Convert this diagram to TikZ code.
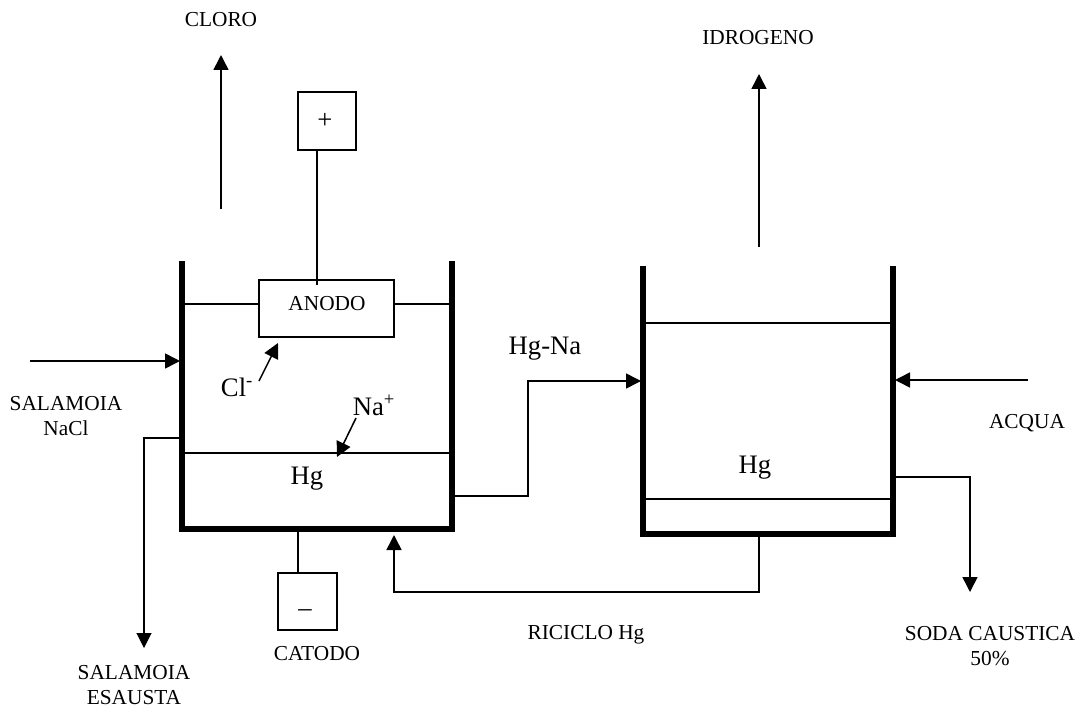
\documentclass[tikz,border=0pt]{standalone}
\usepackage{fontspec}
\setmainfont{Liberation Serif}
\usetikzlibrary{arrows.meta}
\tikzset{
  thinline/.style={line width=1.15pt,black},
  fineline/.style={line width=0.8pt,black},
  wall/.style={line width=3.8pt,black,line join=miter},
  flow/.style={thinline,-{Triangle[length=11.25pt,width=11.25pt]}},
  fineflow/.style={fineline,-{Triangle[length=11.25pt,width=11.25pt]}},
  lab/.style={font=\fontsize{16}{18.75}\selectfont,align=center,inner sep=0pt},
  big/.style={font=\fontsize{20}{22}\selectfont,inner sep=0pt},
  box/.style={draw,thinline,fill=white,inner sep=0pt,font=\fontsize{16}{18}\selectfont}
}
\begin{document}
\begin{tikzpicture}[x=0.75pt,y=-0.75pt]
\useasboundingbox (0,0) rectangle (1081,710);
% cell 1
\coordinate (w1a) at (182,261);
\coordinate (w1b) at (182,529);
\coordinate (w1c) at (452,529);
\coordinate (w1d) at (452,261);
\draw[wall] (w1a) -- (w1b) -- (w1c) -- (w1d);
\node[box,minimum width=101pt,minimum height=43pt] (anodo) at (326.5,308.5) {};
\node[lab] (anodot) at (327,304) {ANODO};
\draw[thinline] (184,304) -- (anodo.west |- 184,304);
\draw[thinline] (anodo.east |- 452,304) -- (450,304);
\draw[thinline] (184,453) -- (450,453);
% cell 2
\coordinate (w2a) at (643,266);
\coordinate (w2b) at (643,534);
\coordinate (w2c) at (893,534);
\coordinate (w2d) at (893,266);
\draw[wall] (w2a) -- (w2b) -- (w2c) -- (w2d);
\draw[thinline] (645,323) -- (891,323);
\draw[thinline] (645,499) -- (720,499);
\draw[fineline] (720,499) -- (798,499);
\draw[thinline] (798,499) -- (891,499);
% power boxes
\node[box,minimum width=43.5pt,minimum height=43.5pt] (plus) at (327,121) {};
\node[big] (plust) at (325,121) {+};
\node[box,minimum width=44pt,minimum height=43pt] (minus) at (307.5,601.5) {};
\node[big] (minust) at (305,613) {--};
\coordinate (anodotop) at (317,285);
\coordinate (catbot) at (298,532);
\draw[thinline] (317,150) -- (anodotop);
\draw[thinline] (catbot) -- (catbot |- minus.north);
% vertical product arrows
\coordinate (c1) at (221,209); \coordinate (c2) at (221,55);
\draw[flow] (c1) -- (c2);
\coordinate (i1) at (759,247); \coordinate (i2) at (759,74);
\draw[flow] (i1) -- (i2);
% feeds and outlets
\coordinate (f1) at (30,361); \coordinate (f2) at (180,361);
\draw[flow] (f1) -- (f2);
\coordinate (a1) at (1028,380); \coordinate (a2) at (895,380);
\draw[flow] (a1) -- (a2);
\coordinate (s1) at (180,438); \coordinate (s2) at (144,648);
\draw[fineflow] (s1) -| (s2);
\coordinate (h1) at (455,496); \coordinate (h2) at (641,381);
\draw[thinline] (h1) -- (528,496);
\draw[fineline] (528,496.5) -- (528,381) -- (606,381);
\draw[flow] (606,381) -- (h2);
\coordinate (r1) at (759,537); \coordinate (r2) at (394,535);
\draw[flow] (r1) -- (759,592) -- (394,592) -- (r2);
\coordinate (o1) at (896,477); \coordinate (o2) at (970,592);
\draw[flow] (o1) -| (o2);
\coordinate (cl1) at (259,381); \coordinate (cl2) at (278,343);
\draw[flow] (cl1) -- (cl2);
\coordinate (na1) at (356,418); \coordinate (na2) at (337,457);
\draw[flow] (na1) -- (na2);
% labels
\node[lab] (cloro) at (221,20) {CLORO};
\node[lab] (idro) at (758,38) {IDROGENO};
\node[lab] (sal) at (66,416) {SALAMOIA\\NaCl};
\node[lab] (esa) at (134,685) {SALAMOIA\\ESAUSTA};
\node[lab] (cat) at (317,654) {CATODO};
\node[lab] (ric) at (586,635) {RICICLO Hg};
\node[lab] (soda) at (990,646) {SODA CAUSTICA\\50\%};
\node[lab] (acq) at (1027,423) {ACQUA};
\node[big] (hgna) at (545,349) {Hg-Na};
\node[big] (hg1) at (307,479) {Hg};
\node[big] (hg2) at (755,468) {Hg};
\node[big] (cl) at (237,387) {Cl\textsuperscript{-}};
\node[big] (na) at (374,405) {Na\textsuperscript{+}};
\end{tikzpicture}
\end{document}
